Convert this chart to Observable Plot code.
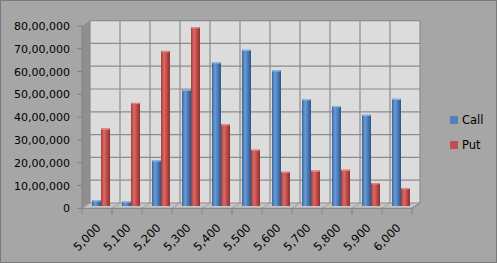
<!DOCTYPE html>
<html><head><meta charset="utf-8">
<script src="https://cdn.jsdelivr.net/npm/d3@7"></script>
<script src="https://cdn.jsdelivr.net/npm/@observablehq/plot@0.6"></script>
<style>
body{margin:0;background:#fff;}
#wrap{position:relative;width:497px;height:263px;overflow:hidden;}
#wrap svg{display:block;}
.lg{position:absolute;left:450px;font:11.5px "DejaVu Sans",sans-serif;color:#000;display:flex;align-items:center;}
.lg span.sw{display:inline-block;width:8px;height:8px;margin-right:4px;}
</style></head><body><div id="wrap"></div>
<script>
const strikes = ["5,000","5,100","5,200","5,300","5,400","5,500","5,600","5,700","5,800","5,900","6,000"];
const callValues = [250000, 200000, 2000000, 5100000, 6300000, 6850000, 5950000, 4680000, 4380000, 4000000, 4700000];
const putValues  = [3400000, 4520000, 6800000, 7840000, 3580000, 2470000, 1500000, 1550000, 1590000, 1000000, 780000];
const yTicks = [0, 1000000, 2000000, 3000000, 4000000, 5000000, 6000000, 7000000, 8000000];
const yTickLabels = ["0","10,00,000","20,00,000","30,00,000","40,00,000","50,00,000","60,00,000","70,00,000","80,00,000"];
const seriesNames = ["Call","Put"];
const seriesColors = ["#4F81BD","#C0504D"];

const callRows = strikes.map((s,i)=>({strike:s, value:callValues[i]}));
const putRows  = strikes.map((s,i)=>({strike:s, value:putValues[i]}));

const W=497, H=263;
const DX=4, DY=-3;   // back wall offset
const FX=-4, FY=2.3; // front edge offset

function decor(index, scales, values, dims) {
  const x = scales.x, y = scales.y;
  const bw = x.bandwidth();
  const x0 = x(strikes[0]), x1 = x(strikes[strikes.length-1]) + bw;
  const y0 = y(0), yT = y(8000000);
  const g = d3.create("svg:g");
  const defs = g.append("defs");
  const grad = (id, stops) => {
    const lg = defs.append("linearGradient").attr("id", id).attr("x1","0").attr("x2","1").attr("y1","0").attr("y2","0");
    stops.forEach(([o,c]) => lg.append("stop").attr("offset", o).attr("stop-color", c));
  };
  grad("gCall", [[0,"#3b679f"],[0.35,"#6b9bd6"],[0.6,"#4f81bd"],[1,"#2e5487"]]);
  grad("gPut", [[0,"#a23d3a"],[0.35,"#dc6a66"],[0.6,"#c0504d"],[1,"#8e302e"]]);
  // outer border
  g.append("rect").attr("x",0.5).attr("y",0.5).attr("width",W-1).attr("height",H-1)
    .attr("fill","none").attr("stroke","#7a7a7a");
  // back wall
  g.append("rect").attr("x", x0+DX).attr("y", yT+DY).attr("width", x1-x0).attr("height", y0-yT)
    .attr("fill","#DCDCDC");
  // side wall
  g.append("polygon").attr("points", [[x0+FX,yT+FY],[x0+DX,yT+DY],[x0+DX,y0+DY],[x0+FX,y0+FY]].join(" "))
    .attr("fill","#8f8f8f");
  // floor
  g.append("polygon").attr("points", [[x0+FX,y0+FY],[x0+DX,y0+DY],[x1+DX,y0+DY],[x1+FX,y0+FY]].join(" "))
    .attr("fill","#c4c4c4");
  const ln = (a,b,c="#8a8a8a",w=1) => g.append("line").attr("x1",a[0]).attr("y1",a[1]).attr("x2",b[0]).attr("y2",b[1])
    .attr("stroke",c).attr("stroke-width",w);
  yTicks.forEach(t => {
    const yy = y(t);
    ln([x0+DX, yy+DY], [x1+DX, yy+DY], "#8c8c8c", 1.2);
    ln([x0+FX, yy+FY], [x0+FX-5, yy+FY], "#808080", 1);
  });
  for (let i = 0; i <= strikes.length; i++) {
    const xb = x0 + i*bw;
    ln([xb+DX, yT+DY], [xb+DX, y0+DY], "#8c8c8c", 1.2);
    ln([xb+DX, y0+DY], [xb+FX, y0+FY], "#9a9a9a", 1);
    ln([xb+FX, y0+FY], [xb+FX, y0+FY+6], "#808080", 1);
  }
  ln([x0+FX, y0+FY], [x1+FX, y0+FY], "#808080", 1);
  ln([x0+FX, yT+FY], [x0+FX, y0+FY], "#808080", 1);
  ln([x1+FX, y0+FY], [x1+DX, y0+DY], "#808080", 1);
  return g.node();
}

const plot = Plot.plot({
  width: W, height: H,
  marginLeft: 86, marginRight: 81, marginTop: 23.6, marginBottom: 57,
  style: {background: "#A6A6A6", fontFamily: "DejaVu Sans, sans-serif", fontSize: "11px", color: "#000", overflow: "visible"},
  x: {type: "band", domain: strikes, padding: 0, axis: null},
  y: {domain: [0, 8000000], axis: null},
  marks: [
    decor,
    Plot.barY(callRows, {x: "strike", y: "value", fill: "url(#gCall)", insetLeft: 6, insetRight: 15}),
    Plot.barY(putRows,  {x: "strike", y: "value", fill: "url(#gPut)",  insetLeft: 15, insetRight: 6}),
    Plot.tickY(callRows, {x: "strike", y: "value", stroke: "#8fb4e3", strokeWidth: 1.5, insetLeft: 6.5, insetRight: 15.5}),
    Plot.tickY(putRows,  {x: "strike", y: "value", stroke: "#e08a87", strokeWidth: 1.5, insetLeft: 15.5, insetRight: 6.5}),
    Plot.text(yTicks, {y: d => d, text: (d,i) => yTickLabels[i], frameAnchor: "left", textAnchor: "end", dx: -16.5, dy: FY, fill: "#000"}),
    Plot.text(strikes, {x: d => d, text: d => d, frameAnchor: "bottom", rotate: -45, textAnchor: "end", dx: 0, dy: 22, fontSize: 11.5, fill: "#000"})
  ]
});
const wrap = document.getElementById("wrap");
wrap.appendChild(plot);
const legTop = [113, 138];
seriesNames.forEach((n,i) => {
  const d = document.createElement("div");
  d.className = "lg";
  d.style.top = legTop[i] + "px";
  d.innerHTML = `<span class="sw" style="background:${seriesColors[i]}"></span>${n}`;
  wrap.appendChild(d);
});
</script></body></html>
